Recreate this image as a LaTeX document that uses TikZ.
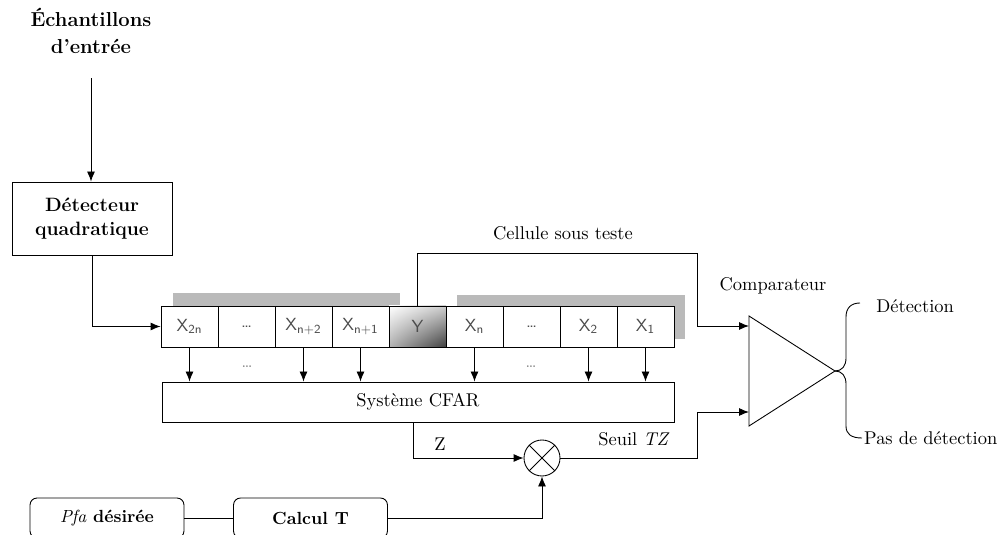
\documentclass[tikz,border=0pt]{standalone}
\usepackage{fontspec}
\usepackage{amsmath,amssymb}
\usepackage{tikz}
\usetikzlibrary{arrows.meta}
\usetikzlibrary{calc}
\usetikzlibrary{shadings}
\tikzstyle{cell} = [rectangle, draw, fill=white, minimum width=11.4mm, minimum height=8.2mm, inner sep=0pt, font=\sffamily\fontsize{10}{12}\selectfont, text=black!70]
\tikzstyle{bloc} = [rectangle, draw, inner sep=0pt]
\tikzstyle{rbloc} = [rectangle, draw, rounded corners=4pt, minimum width=30.8mm, minimum height=8mm, font=\bfseries]
\tikzstyle{lbl} = [font=\fontsize{10.5}{13}\selectfont]
\tikzstyle{ombre} = [fill=black!27]

\begin{document}
\begin{tikzpicture}[x=0.2mm,y=-0.2mm,>={Latex[length=2mm,width=1.6mm]},line width=0.5pt]
		\useasboundingbox (0,0) rectangle (1001,535);
		% entree
		\node[align=center, font=\fontsize{11.5}{15.5}\selectfont\bfseries] (ech) at (91,31) {Échantillons\\d'entrée};
		\node[bloc, minimum width=32mm, minimum height=14.6mm, align=center, font=\fontsize{11}{14}\selectfont\bfseries] (det) at (92,218.5) {Détecteur\\quadratique};
		\draw[->, shorten <=3.6mm] (ech.south) -- (ech.south |- det.north);
		% registre
		\fill[ombre] (173,293) rectangle (400,335);
		\fill[ombre] (457,295) rectangle (685,339);
		\foreach \i/\lab in {1/X\textsubscript{2n},2/\dots,3/X\textsubscript{n+2},4/X\textsubscript{n+1},6/X\textsubscript{n},7/\dots,8/X\textsubscript{2},9/X\textsubscript{1}}
		\node[cell] (c\i) at ({189.5+57*(\i-1)},326.5) {\lab};
		\node[cell, upper left=white, upper right=black!20, lower left=black!30, lower right=black!75] (c5) at (417.5,326.5) {Y};
		\draw[->] (det.south) |- (c1.west);
		% systeme CFAR
		\node[bloc, lbl, minimum width=102.4mm, minimum height=8mm] (cfar) at (418,402) {Système CFAR};
		\foreach \i in {1,3,4,6,8,9}
		\draw[->] (c\i.south) -- (c\i.south |- cfar.north);
		\node[font=\small, text=black!50] (d1) at (247,367) {\dots};
		\node[font=\small, text=black!50] (d2) at (531,367) {\dots};
		% comparateur
		\coordinate (ctop) at (749,316);
		\coordinate (cbot) at (749,426);
		\coordinate (cout) at (835,371);
		\coordinate (cin1) at (749,326);
		\coordinate (cin2) at (749,412);
		\draw (ctop) -- (cout) -- (cbot) -- cycle;
		\node[lbl] (comp) at (773,286) {Comparateur};
		\coordinate (cst) at (697,253);
		\draw[->] (c5.north) |- (cst) |- (cin1);
		\node[lbl] (cell) at (563,233) {Cellule sous teste};
		% sorties
		\coordinate (oui) at (860,303);
		\coordinate (non) at (862,438);
		\draw (cout) .. controls (842,371) and (846,366) .. (846,358) -- (846,317) .. controls (846,308) and (851,303) .. (oui);
		\draw (cout) .. controls (842,371) and (846,376) .. (846,384) -- (846,426) .. controls (846,434) and (851,438) .. (non);
		\node[lbl, anchor=west] (det1) at (870,306) {Détection};
		\node[lbl, anchor=west, inner sep=1pt] (det2) at (non) {Pas de détection};
		% seuil
		\node[draw, circle, minimum size=7.2mm, inner sep=0pt] (mult) at (542,458) {};
		\draw (mult.north west) -- (mult.south east) (mult.north east) -- (mult.south west);
		\draw[->] ([xshift=-1mm]cfar.south) |- (mult.west);
		\node[lbl] (z) at (440,444) {Z};
		\coordinate (seuil) at (697,412);
		\draw[->] (mult.east) -| (seuil) -- (cin2);
		\node[lbl] (tz) at (634,439) {Seuil \textit{TZ}};
		% Pfa
		\node[rbloc] (pfa) at (107,518) {{\mdseries\itshape Pfa} désirée};
		\node[rbloc] (calc) at (310.5,518) {Calcul T};
		\draw (pfa) -- (calc);
		\draw[->] (calc) -| (mult);
	\end{tikzpicture}
\end{document}
